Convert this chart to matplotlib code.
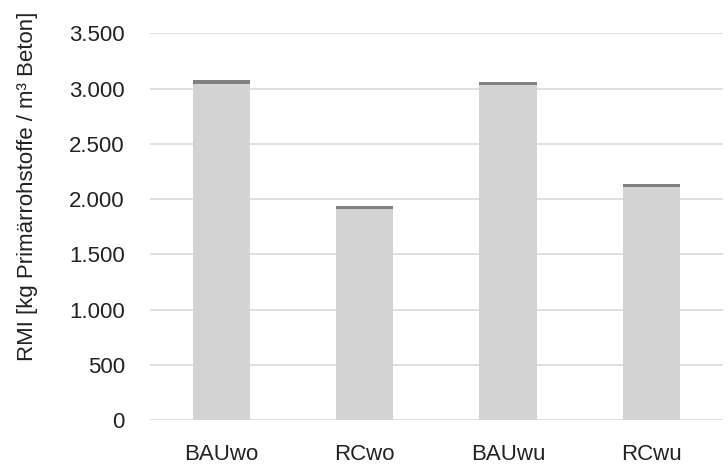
import matplotlib.pyplot as plt
from matplotlib.ticker import FuncFormatter

# RMI per scenario: primary raw materials, split into main share and small top share
scenarios = ['BAUwo', 'RCwo', 'BAUwu', 'RCwu']
main_share = [3045, 1910, 3030, 2112]
top_share = [30, 28, 28, 26]

plt.rcParams['font.family'] = ['Liberation Sans', 'DejaVu Sans']

fig = plt.figure(figsize=(7.28, 4.67), dpi=100)
ax = fig.add_axes([0.206, 0.1006, 0.787, 0.828])

x = range(len(scenarios))
ax.bar(x, main_share, width=0.4, color='#d3d3d3', zorder=2)
ax.bar(x, top_share, width=0.4, bottom=main_share, color='#808080', zorder=2)

ax.set_xlim(-0.5, 3.5)
ax.set_ylim(0, 3500)
ax.set_yticks(range(0, 3501, 500))
ax.yaxis.set_major_formatter(FuncFormatter(lambda v, p: f'{int(v):,}'.replace(',', '.')))
ax.set_xticks(list(x))
ax.set_xticklabels(scenarios)

ax.grid(axis='y', color='#d9d9d9', linewidth=1.2, zorder=0)
for s in ax.spines.values():
    s.set_visible(False)
ax.tick_params(length=0, labelsize=16, colors='#222222')
ax.tick_params(axis='y', pad=18)
ax.tick_params(axis='x', pad=17)

ax.set_ylabel('RMI [kg Primärrohstoffe / m³ Beton]', fontsize=16, color='#222222')
ax.yaxis.set_label_coords(-0.195, 0.605)

fig.savefig('out.png', dpi=100)
